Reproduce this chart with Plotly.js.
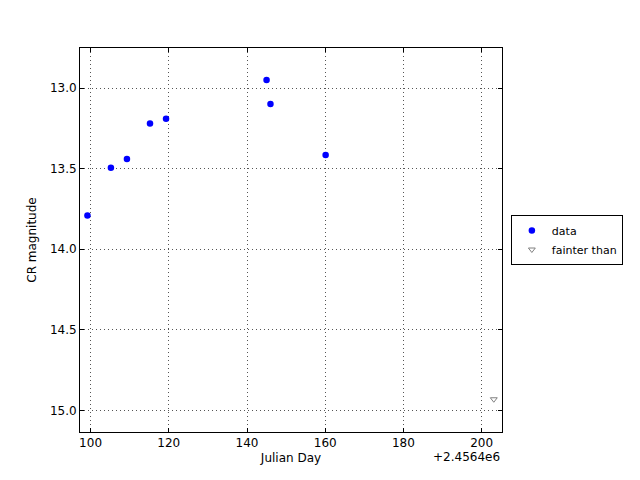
<!DOCTYPE html>
<html><head><meta charset="utf-8">
<script src="https://cdn.plot.ly/plotly-3.0.1.min.js"></script>
<style>body{margin:0;padding:0;background:#fff}</style>
</head><body>
<div id="chart" style="width:640px;height:480px"></div>
<script>
const dataJD = [2456499.2, 2456505.2, 2456509.3, 2456515.2, 2456519.3, 2456545.0, 2456546.0, 2456560.1];
const dataMag = [13.79, 13.495, 13.44, 13.22, 13.19, 12.95, 13.10, 13.415];
const fainterJD = [2456603.1];
const fainterMag = [14.93];
const xTickVals = [2456500, 2456520, 2456540, 2456560, 2456580, 2456600];
const xTickText = ['100', '120', '140', '160', '180', '200'];
const yTickVals = [13.0, 13.5, 14.0, 14.5, 15.0];

const font = {family: 'DejaVu Sans', size: 12, color: '#000'};
const axisCommon = {
  showline: true, mirror: 'allticks', linecolor: '#000', linewidth: 1,
  ticks: 'inside', ticklen: 4, tickcolor: '#000',
  showgrid: true, gridcolor: '#555', griddash: '1px,3px', gridwidth: 1,
  zeroline: false, tickfont: font
};

const traces = [
  {x: dataJD, y: dataMag, mode: 'markers', type: 'scatter', name: 'data',
   marker: {color: '#0000ff', size: 6.5, symbol: 'circle', line: {width: 0}}},
  {x: fainterJD, y: fainterMag, mode: 'markers', type: 'scatter', name: 'fainter than',
   marker: {color: '#808080', size: 6, symbol: 'triangle-down-open', line: {width: 1, color: '#808080'}}}
];

const layout = {
  width: 640, height: 480,
  margin: {l: 80, r: 138, t: 48, b: 48},
  paper_bgcolor: '#fff', plot_bgcolor: '#fff',
  font: font,
  showlegend: true,
  legend: {x: 1.021, y: 0.5, xanchor: 'left', yanchor: 'middle',
    bordercolor: '#000', borderwidth: 1, bgcolor: '#fff',
    font: {family: 'DejaVu Sans', size: 11, color: '#000'},
    tracegroupgap: 0, itemwidth: 30},
  xaxis: Object.assign({}, axisCommon, {
    range: [2456497.3, 2456605.2],
    tickmode: 'array', tickvals: xTickVals, ticktext: xTickText,
    title: {text: 'Julian Day', font: font, standoff: 4}
  }),
  yaxis: Object.assign({}, axisCommon, {
    range: [15.133, 12.752],
    tickmode: 'array', tickvals: yTickVals, tickformat: '.1f',
    title: {text: 'CR magnitude', font: font, standoff: 10}
  }),
  annotations: [{
    text: '+2.4564e6', xref: 'paper', yref: 'paper', x: 1, y: 0,
    xanchor: 'right', yanchor: 'top', yshift: -16, showarrow: false,
    font: font
  }]
};
Plotly.newPlot('chart', traces, layout, {displayModeBar: false, staticPlot: true});
</script>
</body></html>
